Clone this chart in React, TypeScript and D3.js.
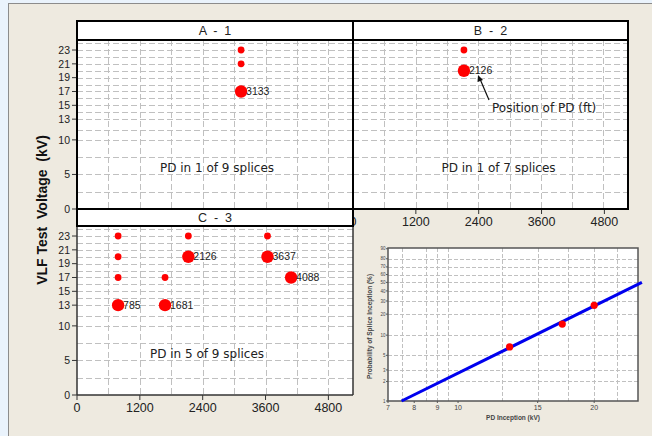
import * as d3 from "d3";

// panel titles and notes
const panelTitles = ["A - 1", "B - 2", "C - 3"];
const panelNotes = ["PD in 1 of 9 splices", "PD in 1 of 7 splices", "PD in 5 of 9 splices"];

// splice position (ft), test voltage (kV), pd = PD seen at this step
const pointsA = [
  { ft: 3133, kv: 23, pd: false },
  { ft: 3133, kv: 21, pd: false },
  { ft: 3133, kv: 17, pd: true },
];
const pointsB = [
  { ft: 2126, kv: 23, pd: false },
  { ft: 2126, kv: 20, pd: true },
];
const pointsC = [
  { ft: 785, kv: 23, pd: false },
  { ft: 785, kv: 20, pd: false },
  { ft: 785, kv: 17, pd: false },
  { ft: 785, kv: 13, pd: true },
  { ft: 1681, kv: 17, pd: false },
  { ft: 1681, kv: 13, pd: true },
  { ft: 2126, kv: 23, pd: false },
  { ft: 2126, kv: 20, pd: true },
  { ft: 3637, kv: 23, pd: false },
  { ft: 3637, kv: 20, pd: true },
  { ft: 4088, kv: 17, pd: true },
];

const yTicks = [0, 5, 10, 13, 15, 17, 19, 21, 23];
const xTicks = [0, 1200, 2400, 3600, 4800];
const yGrid = [2.5, 5, 7.5, 10, 11.5, 13, 14, 15, 16, 17, 18, 19, 20, 21, 22, 23, 24];
const xGrid = [600, 1200, 1800, 2400, 3000, 3600, 4200, 4800];

// probability inset
const probYTicks = [1, 2, 3, 5, 10, 20, 30, 40, 50, 60, 70, 80, 90];
const probXTicks = [7, 8, 9, 10, 15, 20];
const probXGrid = [7.5, 8.5, 9, 9.5, 12.5, 15, 17.5, 20, 22.5];
const inceptionPoints = [
  { kv: 13, p: 6.7 },
  { kv: 17, p: 14.5 },
  { kv: 20, p: 26.3 },
];
const fitLine = [
  { kv: 7.5, p: 1 },
  { kv: 25.5, p: 50 },
];

const font = "'Liberation Sans', Arial, sans-serif";
const font2 = "'DejaVu Sans', Verdana, sans-serif";
const gridColor = "#c0c0c0";

const L = 77, M = 353, R = 628;
const headTop = 21, headH = 19;

const snap = (v) => Math.round(v) + 0.5;

function Panel({ x0, x1, top, bottom, points, note, noteDx, showY }) {
  const x = d3.scaleLinear().domain([0, 5270]).range([x0, x1]);
  const y = d3.scaleLinear().domain([0, 24.45]).range([bottom, top]);
  return (
    <g>
      <rect x={x0} y={top} width={x1 - x0} height={bottom - top} fill="#fff" />
      <g shapeRendering="crispEdges">
        {yGrid.map((v) => (
          <line key={"h" + v} x1={x0} x2={x1} y1={snap(y(v))} y2={snap(y(v))} stroke={gridColor} strokeDasharray="6,3" />
        ))}
        {xGrid.map((v) => (
          <line key={"v" + v} x1={snap(x(v))} x2={snap(x(v))} y1={top} y2={bottom} stroke={gridColor} strokeDasharray="6,3" />
        ))}
      </g>
      {showY &&
        yTicks.map((v) => (
          <g key={"t" + v}>
            <line x1={x0 - 5} x2={x0} y1={y(v)} y2={y(v)} stroke="#333" />
            <text x={x0 - 7} y={y(v)} dy="0.35em" textAnchor="end" fontSize={10.5} fill="#222" fontFamily={font}>
              {v}
            </text>
          </g>
        ))}
      <text x={(x0 + x1) / 2 + noteDx} y={y(6)} dy="0.35em" textAnchor="middle" fontSize={12} fill="#222" fontFamily={font2}>
        {note}
      </text>
      {points.map((d, i) => (
        <circle key={i} cx={x(d.ft)} cy={y(d.kv)} r={d.pd ? 6.2 : 3.4} fill="#ff0000" />
      ))}
      {points
        .filter((d) => d.pd)
        .map((d, i) => (
          <text key={"l" + i} x={x(d.ft) + 5} y={y(d.kv)} dy="0.35em" fontSize={10.5} fill="#222" fontFamily={font}>
            {d.ft}
          </text>
        ))}
    </g>
  );
}

function XAxis({ x0, x1, y0 }) {
  const x = d3.scaleLinear().domain([0, 5270]).range([x0, x1]);
  return (
    <g>
      {xTicks.map((v) => (
        <g key={v}>
          <line x1={x(v)} x2={x(v)} y1={y0} y2={y0 + 5} stroke="#333" />
          <text x={x(v)} y={y0 + 17} textAnchor="middle" fontSize={12.5} fill="#222" fontFamily={font}>
            {v}
          </text>
        </g>
      ))}
    </g>
  );
}

function Header({ x0, x1, top, h, title }) {
  return (
    <g>
      <rect x={x0} y={top} width={x1 - x0} height={h} fill="#fff" stroke="#000" strokeWidth={2} />
      <text x={(x0 + x1) / 2} y={top + h / 2} dy="0.38em" textAnchor="middle" fontSize={12.5} fill="#222" fontFamily={font} style={{ whiteSpace: "pre" }}>
        {title.replace(/ - /, "  -  ")}
      </text>
    </g>
  );
}

function ProbInset() {
  const pl = 388, pr = 638, pt = 248, pb = 401;
  const w = (p) => Math.log(-Math.log(1 - p / 100));
  const x = d3.scaleLog().domain([7, 25]).range([pl, pr]);
  const ys = d3.scaleLinear().domain([w(1), w(90.6)]).range([pb, pt]);
  const y = (p) => ys(w(p));
  const line = d3
    .line()
    .x((d) => x(d.kv))
    .y((d) => y(d.p));
  return (
    <g>
      <rect x={pl} y={pt} width={pr - pl} height={pb - pt} fill="#fff" />
      <g shapeRendering="crispEdges">
        {probYTicks.slice(1, -1).map((v) => (
          <line key={"h" + v} x1={pl} x2={pr} y1={snap(y(v))} y2={snap(y(v))} stroke={gridColor} strokeDasharray="4,2" />
        ))}
        {probXGrid.map((v) => (
          <line key={"v" + v} x1={snap(x(v))} x2={snap(x(v))} y1={pt} y2={pb} stroke={gridColor} strokeDasharray="4,2" />
        ))}
      </g>
      <rect x={pl} y={pt} width={pr - pl} height={pb - pt} fill="none" stroke="#555" strokeWidth={1.5} />
      {probYTicks.map((v) => (
        <g key={"yt" + v}>
          <line x1={pl - 2} x2={pl} y1={y(v)} y2={y(v)} stroke="#555" />
          <text x={pl - 2.5} y={y(v)} dy="0.35em" textAnchor="end" fontSize={4.5} fill="#444" fontFamily={font}>
            {v}
          </text>
        </g>
      ))}
      {probXTicks.map((v) => (
        <g key={"xt" + v}>
          <line x1={x(v)} x2={x(v)} y1={pb} y2={pb + 2} stroke="#555" />
          <text x={x(v)} y={pb + 9} textAnchor="middle" fontSize={7} fill="#444" fontFamily={font}>
            {v}
          </text>
        </g>
      ))}
      <path d={line(fitLine)} fill="none" stroke="#0000ee" strokeWidth={3} />
      {inceptionPoints.map((d, i) => (
        <circle key={i} cx={x(d.kv)} cy={y(d.p)} r={3.6} fill="#ff0000" />
      ))}
      <text x={(pl + pr) / 2} y={pb + 19} textAnchor="middle" fontSize={6.5} fontWeight="bold" fill="#444" fontFamily={font}>
        PD Inception (kV)
      </text>
      <text
        transform={`translate(${372},${(pt + pb) / 2 + 2}) rotate(-90)`}
        textAnchor="middle"
        fontSize={6.5}
        fontWeight="bold"
        fill="#444"
        fontFamily={font}
      >
        Probability of Splice Inception (%)
      </text>
    </g>
  );
}

export default function App() {
  const rowTop = headTop + headH;
  const rowBottom = 209;
  const cHeadBottom = 226;
  const cBottom = 395;
  return (
    <div style={{ position: "absolute", left: 0, top: 0 }}>
      <svg width={652} height={436} style={{ display: "block" }}>
        <rect x={0} y={0} width={652} height={436} fill="#eaf3fc" />
        <rect x={8.5} y={3.5} width={660} height={440} fill="#eeeae0" stroke="#8c8c8c" />

        {/* top row */}
        <Panel x0={L} x1={M} top={rowTop} bottom={rowBottom} points={pointsA} note={panelNotes[0]} noteDx={2} showY />
        <Panel x0={M} x1={R} top={rowTop} bottom={rowBottom} points={pointsB} note={panelNotes[1]} noteDx={8} showY={false} />
        <XAxis x0={M} x1={R + 1} y0={rowBottom} />
        <rect x={L} y={headTop} width={M - L} height={rowBottom - headTop} fill="none" stroke="#000" strokeWidth={2} />
        <rect x={M} y={headTop} width={R - M} height={rowBottom - headTop} fill="none" stroke="#000" strokeWidth={2} />
        <Header x0={L} x1={M} top={headTop} h={headH} title={panelTitles[0]} />
        <Header x0={M} x1={R} top={headTop} h={headH} title={panelTitles[1]} />

        {/* B-2 annotation */}
        <line x1={489} y1={100} x2={480} y2={79} stroke="#111" strokeWidth={1.2} />
        <path d="M478,75 L477.5,82 L483,80 Z" fill="#111" />
        <text x={492} y={108} dy="0.35em" fontSize={12} fill="#222" fontFamily={font2}>
          Position of PD (ft)
        </text>

        {/* bottom row */}
        <Panel x0={L} x1={M} top={cHeadBottom} bottom={cBottom} points={pointsC} note={panelNotes[2]} noteDx={-8} showY />
        <line x1={L} x2={L} y1={cHeadBottom} y2={cBottom} stroke="#333" strokeWidth={1.5} />
        <line x1={L} x2={M} y1={cBottom} y2={cBottom} stroke="#333" strokeWidth={1.5} />
        <line x1={M} x2={M} y1={cHeadBottom} y2={cBottom} stroke="#333" strokeWidth={1.5} />
        <XAxis x0={L} x1={M} y0={cBottom} />
        <Header x0={L} x1={M} top={rowBottom} h={cHeadBottom - rowBottom} title={panelTitles[2]} />

        <text
          transform={`translate(${47},${210}) rotate(-90)`}
          textAnchor="middle"
          fontSize={14}
          fontWeight="bold"
          fill="#111"
          fontFamily={font}
          style={{ whiteSpace: "pre" }}
        >
          VLF Test  Voltage  (kV)
        </text>

        <ProbInset />
      </svg>
    </div>
  );
}
